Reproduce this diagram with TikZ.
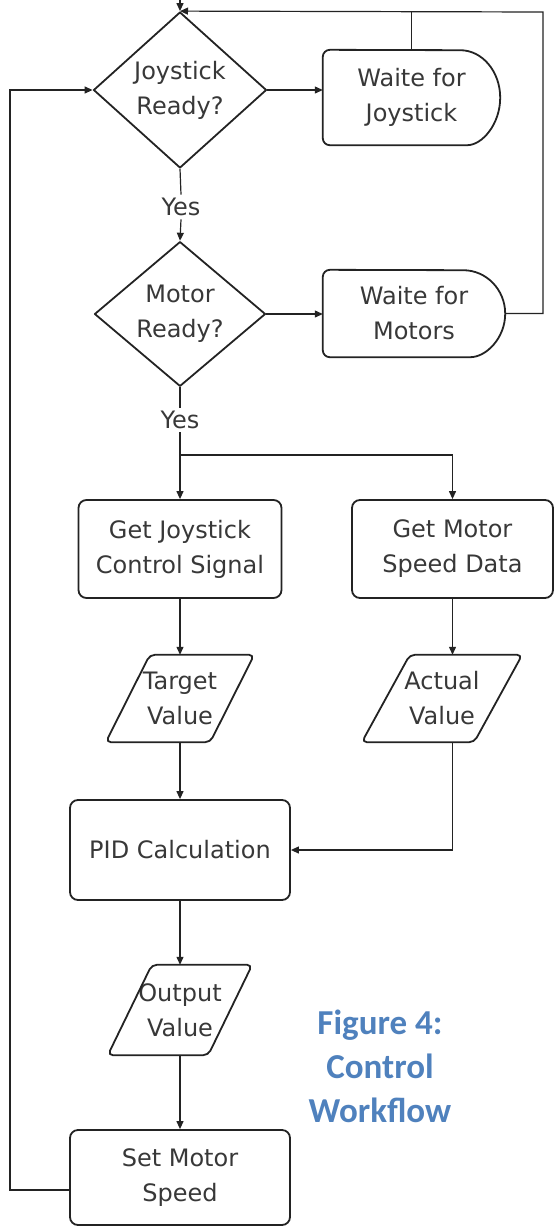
\documentclass[tikz,border=0pt]{standalone}
\usepackage{fontspec}
\setmainfont{DejaVu Sans}
\newfontfamily\capfont{Carlito}
\usetikzlibrary{shapes.geometric,arrows.meta,calc}
\definecolor{capblue}{RGB}{79,129,189}
\definecolor{ink}{RGB}{35,35,35}
\begin{document}
\begin{tikzpicture}[x=1pt,y=-1pt,
  every node/.style={font=\fontsize{24}{35}\selectfont, text=black!78, align=center},
  shp/.style={draw=ink, line width=1.8pt, line join=round},
  dec/.style={shp, shape=diamond, inner sep=0pt},
  proc/.style={shp, rectangle, rounded corners=8pt, inner sep=0pt},
  ghost/.style={rectangle, inner sep=0pt},
  conn/.style={draw=ink, line width=1.2pt, -{Triangle[length=8pt,width=7pt]}},
  plain/.style={draw=ink, line width=1.2pt},
]
\useasboundingbox (0,0) rectangle (555,1229);

% decisions
\node[dec, minimum width=173pt, minimum height=156pt] (jr) at (180,90) {Joystick\\Ready?};
\node[dec, minimum width=171pt, minimum height=142pt] (mr) at (180,314) {Motor\\Ready?};

% delay shapes
\node[ghost, minimum width=177pt, minimum height=95pt] (wj) at (411.5,97.5) {Waite for\\Joystick};
\draw[shp] ($(wj.south east)+(-40,0)$) arc[start angle=-90, end angle=90, x radius=40pt, y radius=47.5pt]
  [rounded corners=7pt] -- (wj.north west) -- (wj.south west) -- cycle;
\node[ghost, minimum width=182pt, minimum height=87pt] (wm) at (414,313.5) {Waite for\\Motors};
\draw[shp] ($(wm.south east)+(-42,0)$) arc[start angle=-90, end angle=90, x radius=42pt, y radius=43.5pt]
  [rounded corners=7pt] -- (wm.north west) -- (wm.south west) -- cycle;

% yes labels
\node (y1) at (181,207) {Yes};
\node (y2) at (180,420) {Yes};

% processes
\node[proc, minimum width=203pt, minimum height=98pt] (gj) at (180,549) {Get Joystick\\Control Signal};
\node[proc, minimum width=201pt, minimum height=98pt] (gm) at (452.5,549) {Get Motor\\Speed Data};
\node[proc, minimum width=220pt, minimum height=100pt] (pid) at (180,850) {PID Calculation};
\node[proc, minimum width=220pt, minimum height=95pt] (sm) at (180,1177.5) {Set Motor\\Speed};

% data (parallelograms)
\node[ghost, minimum width=104pt, minimum height=87pt] (tv) at (180,698.5) {Target\\Value};
\draw[shp, rounded corners=5pt] ($(tv.north west)+(22,0)$) -- ($(tv.north east)+(22,0)$) -- ($(tv.south east)+(-22,0)$) -- ($(tv.south west)+(-22,0)$) -- cycle;
\node[ghost, minimum width=112pt, minimum height=87pt] (av) at (442,698.5) {Actual\\Value};
\draw[shp, rounded corners=5pt] ($(av.north west)+(24,0)$) -- ($(av.north east)+(24,0)$) -- ($(av.south east)+(-24,0)$) -- ($(av.south west)+(-24,0)$) -- cycle;
\node[ghost, minimum width=100pt, minimum height=90pt] (ov) at (180,1010) {Output\\Value};
\draw[shp, rounded corners=5pt] ($(ov.north west)+(22,0)$) -- ($(ov.north east)+(22,0)$) -- ($(ov.south east)+(-22,0)$) -- ($(ov.south west)+(-22,0)$) -- cycle;

% caption
\node[font=\capfont\bfseries\fontsize{35}{44}\selectfont, text=capblue] (cap) at (380,1066) {Figure 4:\\Control\\Workflow};

% connectors
\coordinate (entry) at (180,0);
\coordinate (tr) at (543,12);
\coordinate (br) at (180,455);
\coordinate (lft) at (10,1190);

\draw[conn] (entry) -- (jr.north);
\draw[conn] (jr.east) -- (jr.east -| wj.west);
\draw[plain] (wj.north) -- (wj.north |- jr.north);
\draw[conn] (wm.east) -- (wm.east -| tr) -- (tr) -- (jr.north);
\draw[plain] (jr.south) -- (y1.north);
\draw[conn] (y1.south) -- (mr.north);
\draw[conn] (mr.east) -- (mr.east -| wm.west);
\draw[plain] (mr.south) -- (y2.north);
\draw[plain] (y2.south) -- (br);
\draw[conn] (br) -- (gj.north);
\draw[conn] (br) -| (gm.north);
\draw[conn] (gj.south) -- (tv.north);
\draw[conn] (gm.south) -- (gm.south |- av.north);
\draw[conn] (tv.south) -- (pid.north);
\draw[conn] (gm.south |- av.south) |- (pid.east);
\draw[conn] (pid.south) -- (ov.north);
\draw[conn] (ov.south) -- (sm.north);
\draw[conn] (lft -| sm.west) -- (lft) |- (jr.west);
\end{tikzpicture}
\end{document}
